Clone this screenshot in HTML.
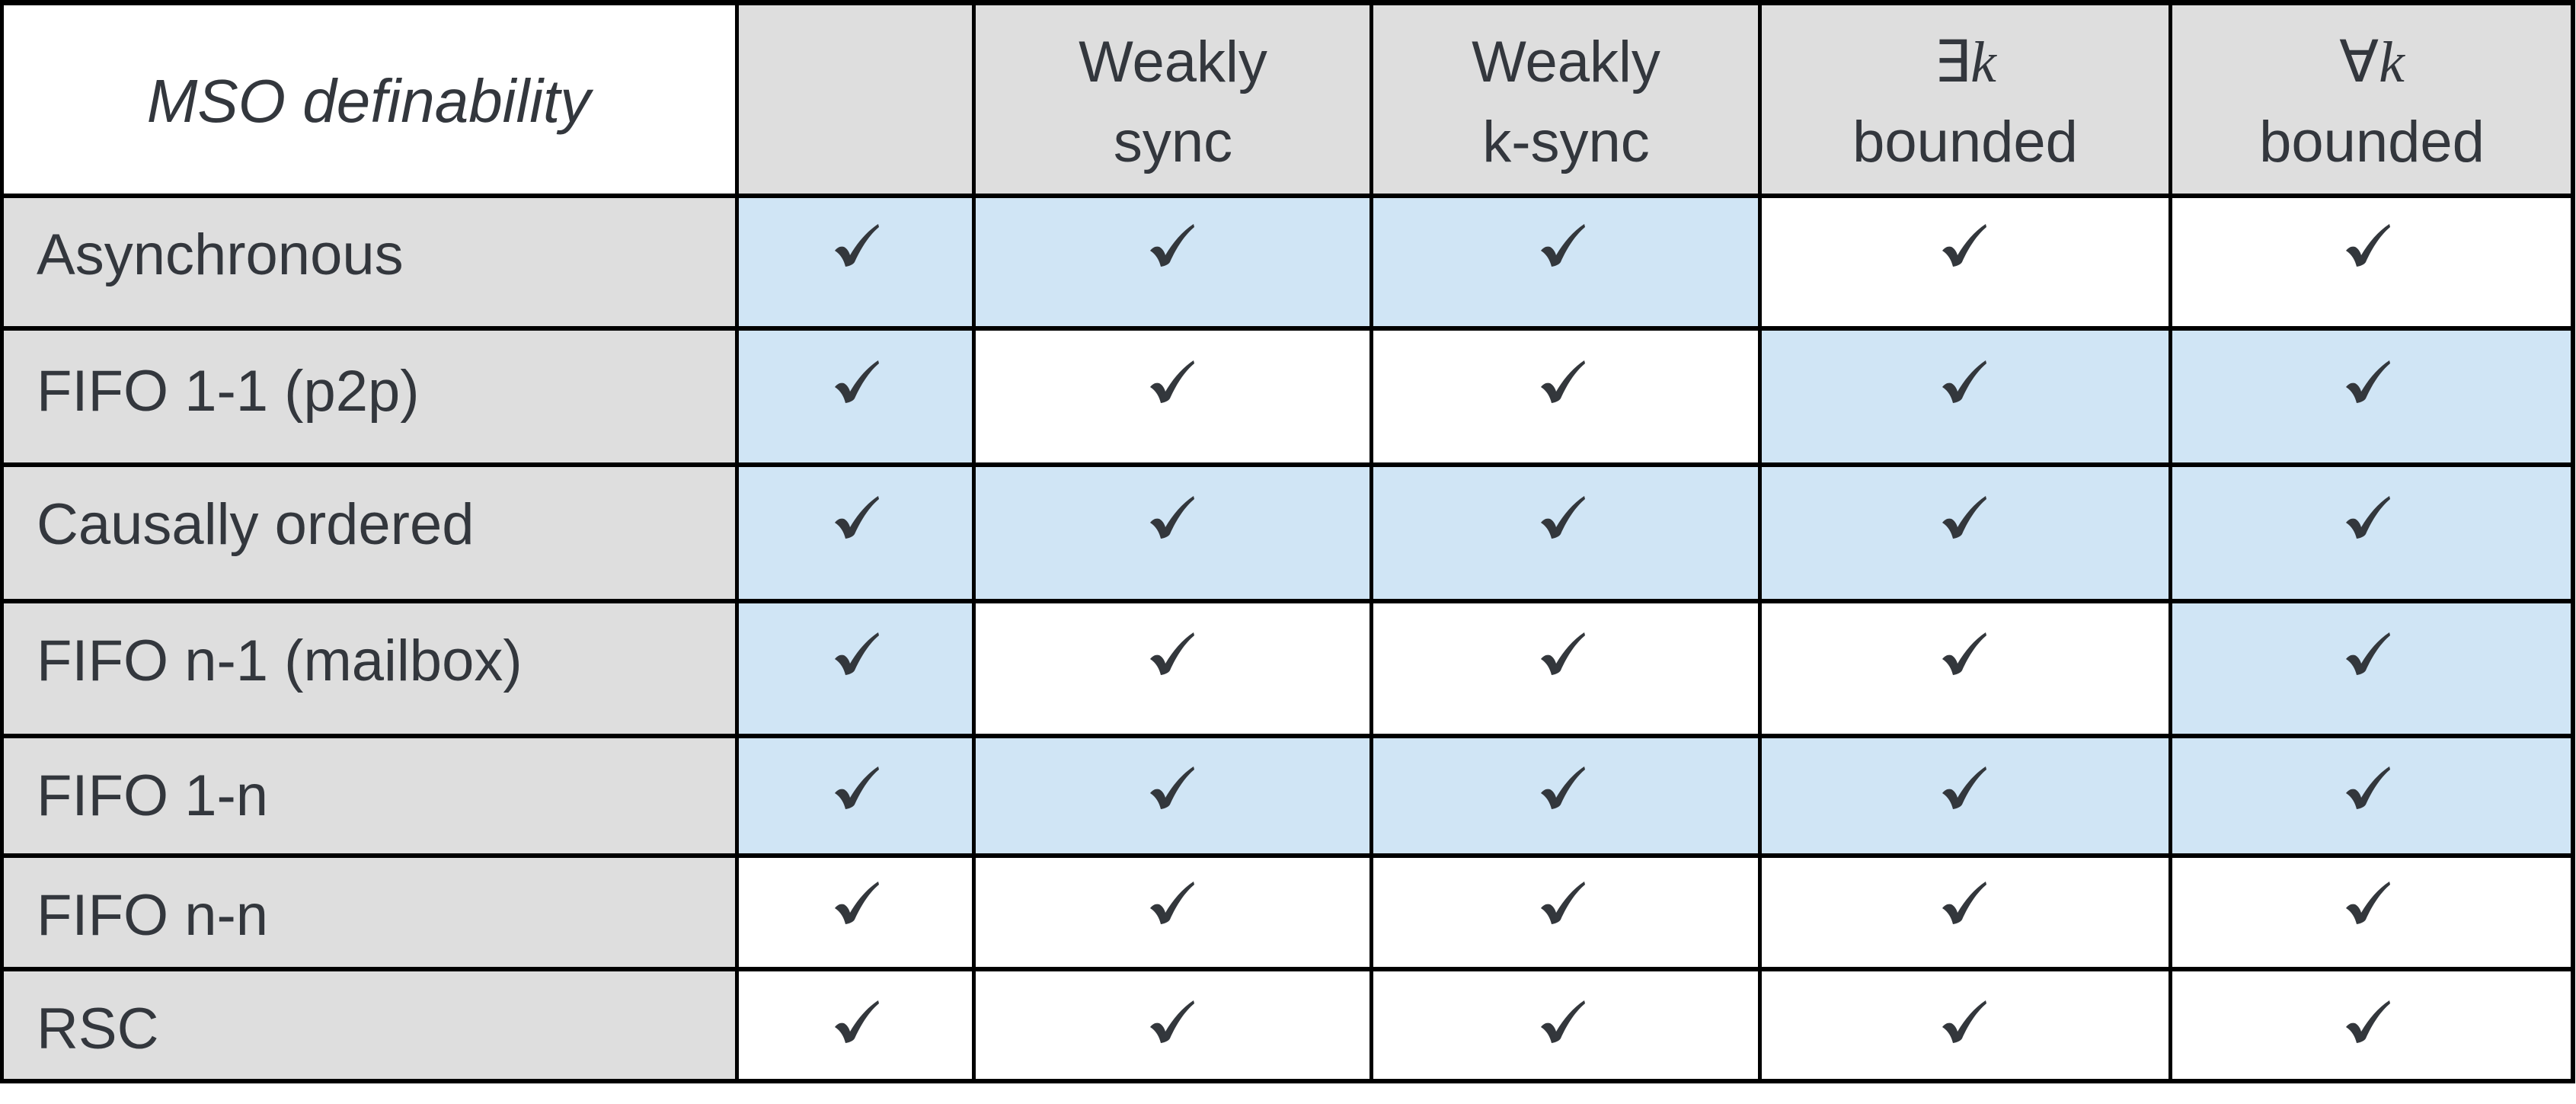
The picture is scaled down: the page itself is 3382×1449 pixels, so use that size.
<!DOCTYPE html>
<html><head><meta charset="utf-8"><style>
html,body{margin:0;padding:0;background:#fff;}
svg{display:block;}
text{font-family:"Liberation Sans",sans-serif;font-size:76px;fill:#33373d;}
</style></head><body>
<svg width="3382" height="1449" viewBox="0 0 3382 1449" xmlns="http://www.w3.org/2000/svg">
<defs>
<path id="ck" d="M57,0 L58,4 C46,14 35,30 26,50 C24,53 20,55 14,56 C12,48 8,40 0,35 C4,30 8,29 12,30 C16,32 19,37 20,41 C30,24 42,10 57,0 Z" fill="#33373c"/>
</defs>
<rect x="0" y="0" width="3382" height="1449" fill="#fff"/>
<rect x="968" y="4" width="2410" height="253" fill="#dedede"/>
<rect x="0" y="257" width="968" height="1163" fill="#dedede"/>
<g fill="#d0e5f5">
<rect x="968" y="257" width="1342" height="174"/>
<rect x="968" y="431" width="310" height="179"/>
<rect x="2310" y="431" width="1068" height="179"/>
<rect x="968" y="610" width="2410" height="179"/>
<rect x="968" y="789" width="310" height="177"/>
<rect x="2849" y="789" width="529" height="177"/>
<rect x="968" y="966" width="2410" height="157"/>
</g>
<g fill="#000">
<rect x="0" y="0" width="3381" height="7"/>
<rect x="0" y="254" width="3381" height="6"/>
<rect x="0" y="428" width="3381" height="6"/>
<rect x="0" y="607" width="3381" height="6"/>
<rect x="0" y="786" width="3381" height="6"/>
<rect x="0" y="963" width="3381" height="6"/>
<rect x="0" y="1120" width="3381" height="6"/>
<rect x="0" y="1269" width="3381" height="6"/>
<rect x="0" y="1416" width="3381" height="6"/>
<rect x="0" y="0" width="5" height="1422"/>
<rect x="965" y="0" width="5" height="1422"/>
<rect x="1276" y="0" width="5" height="1422"/>
<rect x="1798" y="0" width="5" height="1422"/>
<rect x="2308" y="0" width="5" height="1422"/>
<rect x="2847" y="0" width="5" height="1422"/>
<rect x="3375" y="0" width="6" height="1422"/>
</g>
<text x="484" y="160" text-anchor="middle" font-style="italic" style="font-size:80px">MSO definability</text>
<text x="1540" y="107" text-anchor="middle">Weakly</text>
<text x="1540" y="212" text-anchor="middle">sync</text>
<text x="2056" y="107" text-anchor="middle">Weakly</text>
<text x="2056" y="212" text-anchor="middle">k-sync</text>
<text x="2580" y="107" text-anchor="middle"><tspan style="font-family:'DejaVu Sans',sans-serif">∃</tspan><tspan style="font-family:'Liberation Serif',serif;font-style:italic">k</tspan></text>
<text x="2580" y="212" text-anchor="middle">bounded</text>
<text x="3114" y="107" text-anchor="middle"><tspan style="font-family:'DejaVu Sans',sans-serif">∀</tspan><tspan style="font-family:'Liberation Serif',serif;font-style:italic">k</tspan></text>
<text x="3114" y="212" text-anchor="middle">bounded</text>
<text x="48" y="360">Asynchronous</text>
<text x="48" y="539">FIFO 1-1 (p2p)</text>
<text x="48" y="714">Causally ordered</text>
<text x="48" y="893">FIFO n-1 (mailbox)</text>
<text x="48" y="1070">FIFO 1-n</text>
<text x="48" y="1227">FIFO n-n</text>
<text x="48" y="1376">RSC</text>
<use href="#ck" x="1096" y="294"/><use href="#ck" x="1510" y="294"/><use href="#ck" x="2023" y="294"/><use href="#ck" x="2550" y="294"/><use href="#ck" x="3080" y="294"/>
<use href="#ck" x="1096" y="473"/><use href="#ck" x="1510" y="473"/><use href="#ck" x="2023" y="473"/><use href="#ck" x="2550" y="473"/><use href="#ck" x="3080" y="473"/>
<use href="#ck" x="1096" y="651"/><use href="#ck" x="1510" y="651"/><use href="#ck" x="2023" y="651"/><use href="#ck" x="2550" y="651"/><use href="#ck" x="3080" y="651"/>
<use href="#ck" x="1096" y="830"/><use href="#ck" x="1510" y="830"/><use href="#ck" x="2023" y="830"/><use href="#ck" x="2550" y="830"/><use href="#ck" x="3080" y="830"/>
<use href="#ck" x="1096" y="1006"/><use href="#ck" x="1510" y="1006"/><use href="#ck" x="2023" y="1006"/><use href="#ck" x="2550" y="1006"/><use href="#ck" x="3080" y="1006"/>
<use href="#ck" x="1096" y="1157"/><use href="#ck" x="1510" y="1157"/><use href="#ck" x="2023" y="1157"/><use href="#ck" x="2550" y="1157"/><use href="#ck" x="3080" y="1157"/>
<use href="#ck" x="1096" y="1313"/><use href="#ck" x="1510" y="1313"/><use href="#ck" x="2023" y="1313"/><use href="#ck" x="2550" y="1313"/><use href="#ck" x="3080" y="1313"/>
</svg>
</body></html>
